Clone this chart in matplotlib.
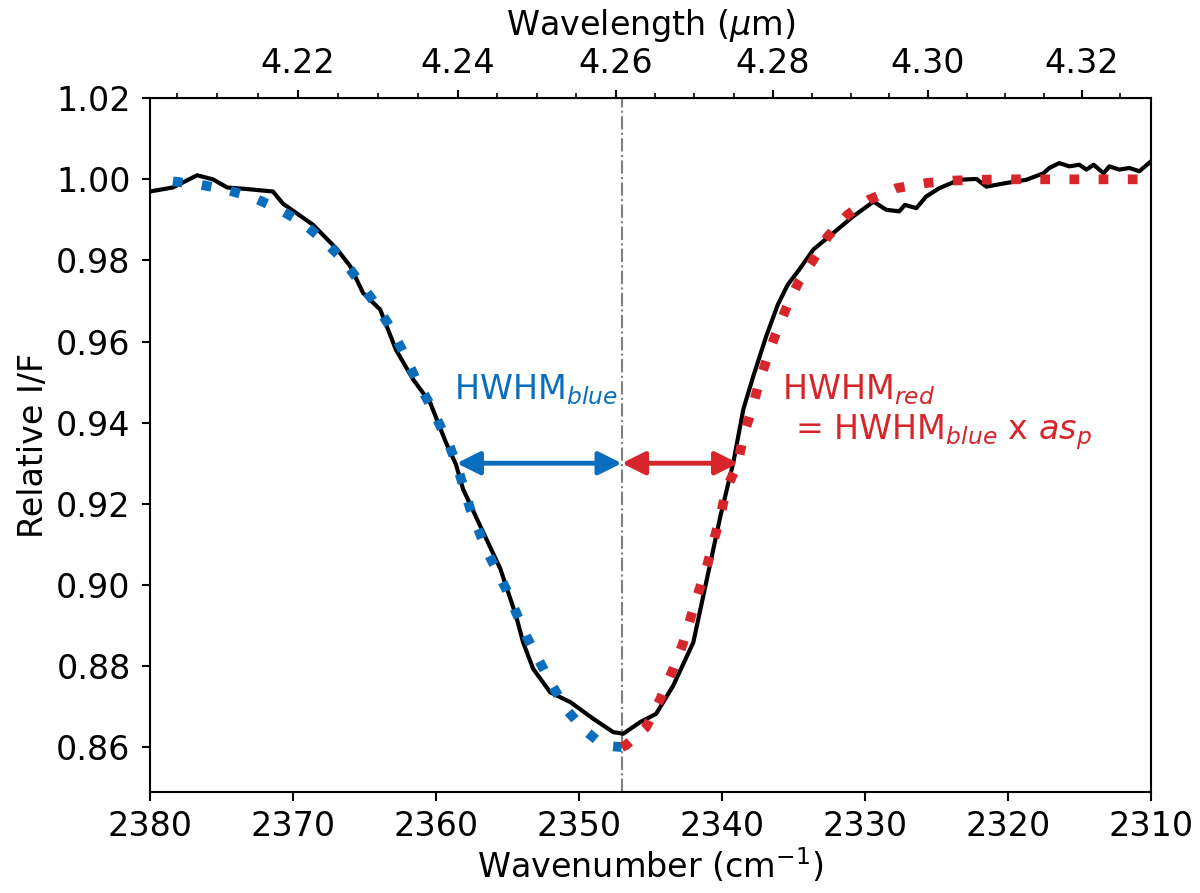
import numpy as np
import matplotlib.pyplot as plt
from matplotlib.ticker import MultipleLocator

# observed spectrum (wavenumber, relative I/F)
obs_wn = [2380, 2378.4, 2376.7, 2375.6, 2374.6, 2373.2, 2371.4, 2370.7, 2368.6, 2366.9,
          2366.0, 2365.1, 2363.9, 2362.8, 2361.6, 2360.4, 2359.3, 2358.6, 2358.1, 2356.9,
          2355.5, 2354.4, 2353.9, 2353.2, 2352.0, 2350.6, 2349.0, 2347.6, 2346.9, 2345.7,
          2344.6, 2343.4, 2342.0, 2341.1, 2340.1, 2339.2, 2338.5, 2337.8, 2336.9, 2336.1,
          2335.4, 2334.6, 2333.6, 2332.2, 2330.8, 2329.4, 2328.5, 2327.6, 2327.2, 2326.4,
          2325.7, 2324.8, 2323.4, 2322.2, 2321.5, 2320.1, 2318.7, 2317.5, 2317.1, 2316.4,
          2315.7, 2315.0, 2314.5, 2314.0, 2313.3, 2312.9, 2312.2, 2311.5, 2310.8, 2310.0]
obs_if = [0.997, 0.998, 1.001, 1.000, 0.998, 0.9976, 0.997, 0.994, 0.9888, 0.9827,
          0.9786, 0.972, 0.9679, 0.958, 0.9507, 0.9449, 0.9351, 0.9297, 0.9236, 0.9145,
          0.904, 0.8924, 0.8858, 0.8793, 0.8735, 0.8711, 0.867, 0.8637, 0.8633, 0.8662,
          0.8682, 0.8752, 0.8858, 0.9006, 0.917, 0.9302, 0.9433, 0.9515, 0.9613, 0.9690,
          0.9740, 0.9777, 0.9827, 0.9868, 0.9909, 0.9945, 0.9925, 0.9921, 0.9937, 0.9929,
          0.9958, 0.9978, 0.9999, 1.0001, 0.9982, 0.9991, 0.9999, 1.0015, 1.0028, 1.004,
          1.0032, 1.0036, 1.0024, 1.0036, 1.0015, 1.0032, 1.0024, 1.0028, 1.002, 1.0044]

# blue-side fit
blue_wn = [2378.4, 2376.5, 2374.6, 2372.7, 2370.9, 2369.3, 2367.9, 2366.5, 2365.3, 2364.2,
           2363.1, 2362.2, 2361.4, 2360.4, 2359.7, 2359.0, 2358.55, 2357.6, 2356.5, 2355.1,
           2353.7, 2352.0, 2350.9, 2349.7, 2348.3, 2347.0]
blue_if = [0.9995, 0.9987, 0.9974, 0.9954, 0.9925, 0.9892, 0.9851, 0.9802, 0.9745, 0.9691,
           0.963, 0.9568, 0.9507, 0.9444, 0.9392, 0.9338, 0.9297, 0.9187, 0.9088, 0.899,
           0.8875, 0.876, 0.8694, 0.8645, 0.8604, 0.860]

# red-side fit
red_wn = [2347.0, 2346.7, 2345.3, 2344.3, 2343.4, 2342.7, 2341.8, 2341.1, 2340.6, 2340.1,
          2339.7, 2338.9, 2338.5, 2337.9, 2337.4, 2336.8, 2336.2, 2335.4, 2334.6, 2333.6,
          2332.6, 2331.2, 2329.7, 2327.8, 2325.7, 2323.8, 2322.0, 2320.0, 2315.0, 2310.0]
red_if = [0.860, 0.8605, 0.8649, 0.8719, 0.8793, 0.8858, 0.8965, 0.9039, 0.9105, 0.917,
          0.9236, 0.9297, 0.9367, 0.9433, 0.9498, 0.9564, 0.9622, 0.9691, 0.9749, 0.9802,
          0.9859, 0.9913, 0.995, 0.9978, 0.9991, 0.9997, 0.9999, 1.0, 1.0, 1.0]

top_ticks = [4.22, 4.24, 4.26, 4.28, 4.30, 4.32]

center = 2347.0
half_level = 0.93
hwhm_blue = 11.55
hwhm_red = 8.15

blue = '#0a6ebd'
red = '#d7262b'

plt.rcParams['font.size'] = 24
fig = plt.figure(figsize=(12, 8.93), dpi=100)
ax = fig.add_axes([0.125, 0.1134, 0.834, 0.7766])

ax.axvline(center, color='gray', linestyle='-.', linewidth=1.5, zorder=1)
ax.plot(obs_wn, obs_if, color='black', linewidth=3, zorder=2)
ax.plot(blue_wn, blue_if, color=blue, linewidth=7, linestyle=(0, (1, 2)), zorder=3)
ax.plot(red_wn, red_if, color=red, linewidth=7, linestyle=(0, (1, 2)), zorder=3)

ax.annotate('', xy=(center, half_level), xytext=(center + hwhm_blue, half_level),
            arrowprops=dict(arrowstyle='<|-|>', color=blue, lw=3.5,
                            mutation_scale=35, shrinkA=0, shrinkB=0), zorder=4)
ax.annotate('', xy=(center, half_level), xytext=(center - hwhm_red, half_level),
            arrowprops=dict(arrowstyle='<|-|>', color=red, lw=3.5,
                            mutation_scale=35, shrinkA=0, shrinkB=0), zorder=4)

ax.text(2347.3, 0.9457, 'HWHM$_{blue}$', color=blue, ha='right', va='baseline')
ax.text(2335.8, 0.9457, 'HWHM$_{red}$', color=red, ha='left', va='baseline')
ax.text(2334.9, 0.9359, '= HWHM$_{blue}$ x $as_p$', color=red, ha='left', va='baseline')

ax.set_xlim(2380, 2310)
ax.set_ylim(0.849, 1.02)
ax.xaxis.set_major_locator(MultipleLocator(10))
ax.yaxis.set_major_locator(MultipleLocator(0.02))
ax.yaxis.set_major_formatter(plt.FormatStrFormatter('%.2f'))
ax.tick_params(axis='x', direction='out', length=6.5, width=1.5, pad=7)
ax.tick_params(axis='y', direction='out', length=6, width=1.5, pad=8)
ax.set_xlabel('Wavenumber (cm$^{-1}$)', labelpad=2)
ax.set_ylabel('Relative I/F')
for s in ax.spines.values():
    s.set_linewidth(1.5)

top = ax.secondary_xaxis('top', functions=(lambda x: 1e4 / x, lambda x: 1e4 / x))
top.set_xticks(top_ticks)
top.xaxis.set_minor_locator(MultipleLocator(0.005))
top.xaxis.set_major_formatter(plt.FormatStrFormatter('%.2f'))
top.tick_params(which='major', length=6, width=1.5, pad=7)
top.tick_params(which='minor', length=3.5, width=1.2)
top.set_xlabel('Wavelength ($\\mu$m)', labelpad=9)

fig.savefig('out.png', dpi=100)
